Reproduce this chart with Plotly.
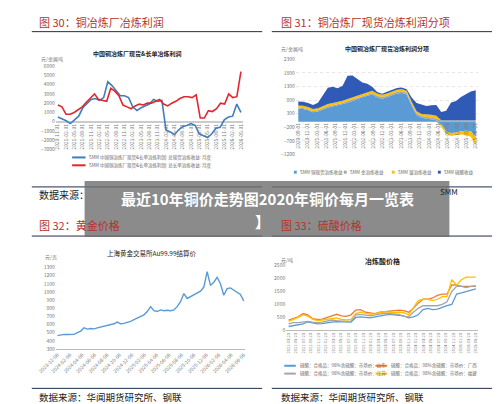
import plotly.graph_objects as go

W, H = 500, 404
def py(p): return 1 - p / H

# ---- Fig 30: smelter profit ----
p30_blue = [500,300,100,-200,200,600,1500,2000,2400,2500,2300,2600,4300,3900,3300,2800,2800,2600,1600,1200,1500,1700,1900,2400,2200,2300,-900,-1100,-1400,-900,-500,-400,-200,-400,-1300,-1500,-1700,-1300,-700,-600,200,500,600,1900,1000]
p30_red = [1800,1600,800,800,1000,1300,1600,2100,2600,3000,2400,2300,2200,3600,3300,2800,1800,1600,1400,1700,1900,1800,2000,2000,2200,2400,1900,1700,2000,2200,2500,2700,2700,2600,2900,400,400,1200,1100,1400,2000,1900,3000,2600,2700,5400]
p30_ticks = ["2020-11-01","2021-02-01","2021-05-01","2021-08-01","2021-11-01","2022-02-01","2022-05-01","2022-08-01","2022-11-01","2023-02-01","2023-05-01","2023-08-01","2023-11-01","2024-02-01","2024-05-01","2024-08-01","2024-11-01","2025-02-01","2025-05-01","2025-08-01","2025-11-01","2026-02-01","2026-05-01"]
p30_names = ["SMM 中国铜冶炼厂现货&长单冶炼利润: 总现货冶炼收益: 月度", "SMM 中国铜冶炼厂现货&长单冶炼利润: 总长单冶炼收益: 月度"]

# ---- Fig 31: stacked components ----
p31_copper = [480,470,420,350,380,450,520,560,600,640,700,760,840,900,960,1000,900,850,900,980,1040,1060,1000,600,250,150,120,100,60,-100,-350,-420,-380,-350,-330,-350,-550]
p31_gold   = [40,40,40,40,40,50,50,50,50,50,60,60,60,60,60,60,60,60,60,60,60,60,60,60,60,60,60,60,60,60,60,60,60,60,60,60,60]
p31_silver = [80,80,80,80,80,80,80,80,80,80,80,80,80,80,80,80,80,80,80,80,80,80,80,80,80,80,100,100,100,-80,-100,-100,-100,-120,-150,-200,-300]
p31_acid   = [150,150,150,150,200,400,600,600,500,550,850,800,600,400,300,150,50,40,60,50,60,60,60,150,300,350,300,350,400,300,350,650,700,850,950,1050,1100]
p31_ticks = ["2020-09-01","2020-12-01","2021-03-01","2021-06-01","2021-09-01","2021-12-01","2022-03-01","2022-06-01","2022-09-01","2022-12-01","2023-03-01","2023-06-01","2023-09-01","2023-12-01","2024-03-01","2024-06-01","2024-09-01","2024-12-01","2025-03-01","2025-06-01"]
p31_names = ["SMM 铜现货冶炼收益", "SMM 金冶炼收益", "SMM 银冶炼收益", "SMM 硫酸收益"]

# ---- Fig 32: gold ----
p32_gold = [465,475,480,478,482,480,500,520,560,545,552,548,560,570,575,585,600,610,630,610,615,625,640,660,680,690,720,760,820,770,760,780,770,775,770,780,820,880,980,920,940,960,990,1010,1060,1250,1080,1120,1180,1100,960,1040,1050,1020,1000,970,890]
p32_ticks = ["2023-12-06","2024-02-06","2024-04-06","2024-06-06","2024-08-06","2024-10-06","2024-12-06","2025-02-06","2025-04-06","2025-06-06","2025-08-06","2025-10-06","2025-12-06","2026-02-06","2026-04-06","2026-06-06"]

# ---- Fig 33: sulfuric acid ----
p33_sd = [150,180,200,250,330,300,250,260,300,320,340,330,310,320,500,520,500,480,520,560,600,620,600,580,560,480,520,600,800,850,800,820,900,950,1000,1400,1450,1500,1550,1600]
p33_gx = [400,450,520,650,600,450,420,430,480,560,620,560,540,600,780,800,700,680,650,700,720,760,780,780,760,700,850,1050,1200,1200,1250,1350,1400,1400,1750,1750,1700,1700,1700,1700]
p33_js = [250,300,300,330,350,320,300,320,350,400,380,360,350,360,600,620,580,560,600,640,660,650,640,620,540,520,700,850,950,950,950,950,1000,1100,1500,1700,1700,1650,1700,1720]
p33_fj = [350,420,500,600,550,430,380,400,420,450,480,420,400,420,650,700,650,620,650,700,720,700,680,700,680,600,900,1150,1200,1200,1150,1200,1300,1300,1950,1750,1950,2050,2050,2050]
p33_ticks = ["2021-03-23","2021-05-23","2021-07-23","2021-09-23","2021-11-23","2022-01-23","2022-03-23","2022-05-23","2022-07-23","2022-09-23","2022-11-23","2023-01-23","2023-03-23","2023-05-23","2023-07-23","2023-09-23","2023-11-23","2024-01-23","2024-03-23","2024-05-23","2024-07-23","2024-09-23","2024-11-23","2025-01-23","2025-03-23","2025-05-23"]
p33_names = ["硫酸：合格品：98%含硫酸：市场价：山东", "硫酸：合格品：98%含硫酸：市场价：广西",
             "硫酸：合格品：98%含硫酸：市场价：江苏", "硫酸：合格品：98%含硫酸：市场价：福建"]

fig = go.Figure()
tickf = dict(size=5, color="#777")
BL, RD, YL, GR, OR = "#3d7ebf", "#e3262d", "#ffc000", "#a5a5a5", "#ed7d31"
def idx(n): return list(range(n))

fig.add_trace(go.Scatter(x=idx(len(p30_blue)), y=p30_blue, mode="lines", line=dict(color=BL, width=1.6), xaxis="x", yaxis="y"))
fig.add_trace(go.Scatter(x=[i*(len(p30_blue)-1)/(len(p30_red)-1) for i in idx(len(p30_red))], y=p30_red, mode="lines",
    line=dict(color=RD, width=1.6), xaxis="x", yaxis="y"))
n31 = len(p31_copper)
c31 = ["#5b9bd5", GR, YL, "#2f5bb7"]
for grp, f in [("pos", lambda v: max(v, 0)), ("neg", lambda v: min(v, 0))]:
    for vals, col in zip([p31_copper, p31_gold, p31_silver, p31_acid], c31):
        fig.add_trace(go.Scatter(x=idx(n31), y=[f(v) for v in vals], mode="lines", stackgroup=grp,
            line=dict(width=0, color=col), fillcolor=col, xaxis="x2", yaxis="y2"))
fig.add_trace(go.Scatter(x=idx(len(p32_gold)), y=p32_gold, mode="lines", line=dict(color="#5b9bd5", width=1.4), xaxis="x3", yaxis="y3"))
c33 = ["#5b9bd5", OR, GR, YL]
for vals, col in zip([p33_sd, p33_gx, p33_js, p33_fj], c33):
    fig.add_trace(go.Scatter(x=idx(len(vals)), y=vals, mode="lines", line=dict(color=col, width=1.3), xaxis="x4", yaxis="y4"))

def xa(dom, n, ticks, angle, **kw):
    step = (n - 1) / (len(ticks) - 1)
    d = dict(domain=dom, range=[-0.5, n - 0.5], showgrid=False, tickvals=[i*step for i in range(len(ticks))],
             ticktext=ticks, tickangle=angle, tickfont=tickf, showline=True, linecolor="#bbb", ticks="", zeroline=False)
    d.update(kw); return d

fig.update_layout(
    width=W, height=H, margin=dict(l=0, r=0, t=0, b=0), paper_bgcolor="white", plot_bgcolor="white",
    font=dict(family="Noto Sans CJK SC"), showlegend=False,
    xaxis=xa([0.06, 0.45], len(p30_blue), p30_ticks, -90, anchor="free", position=py(112), showline=False),
    yaxis=dict(domain=[py(140), py(55)], range=[-3000, 6000], dtick=1000, showgrid=False, tickfont=tickf, zeroline=True, zerolinecolor="#ccc", anchor="x"),
    xaxis2=xa([0.56, 0.94], n31, p31_ticks, -90, anchor="free", position=py(111), showline=False),
    yaxis2=dict(domain=[py(145), py(48)], range=[-1200, 2300], tickvals=[-1200,-700,-200,300,800,1300,1800,2300],
                gridcolor="#e6e6e6", griddash="dot", tickfont=tickf, zeroline=False, anchor="x2"),
    xaxis3=xa([0.06, 0.455], len(p32_gold), p32_ticks, -45, anchor="y3"),
    yaxis3=dict(domain=[py(343), py(260)], range=[300, 1300], dtick=100, showgrid=False, tickfont=tickf, anchor="x3"),
    xaxis4=xa([0.54, 0.94], len(p33_sd), p33_ticks, -90, anchor="y4", tickfont=dict(size=4, color="#777")),
    yaxis4=dict(domain=[py(324), py(258)], range=[0, 2500], dtick=500, showgrid=False, tickfont=tickf, anchor="x4"),
)

ann, shapes = [], []
def txt(x, y, s, size, color="#222", **kw):
    d = dict(x=x/W, y=py(y), xref="paper", yref="paper", text=s, showarrow=False, font=dict(size=size, color=color),
             xanchor="left", yanchor="middle"); d.update(kw); ann.append(d)
def leg_line(x, y, name, col, w=14):
    shapes.append(dict(type="line", xref="paper", yref="paper", x0=x/W, x1=(x+w)/W, y0=py(y), y1=py(y), line=dict(color=col, width=2)))
    txt(x + w + 2, y, name, 4.5, "#666")
def leg_box(x, y, name, col):
    shapes.append(dict(type="rect", xref="paper", yref="paper", x0=x/W, x1=(x+3)/W, y0=py(y+1.5), y1=py(y-1.5), fillcolor=col, line=dict(width=0)))
    txt(x + 4, y, name, 4.5, "#666")

red = "#b5322b"
txt(10, 10, "图 30：铜冶炼厂冶炼利润", 11, red)
txt(262, 10, "图 31：铜冶炼厂现货冶炼利润分项", 11, red)
txt(10, 217, "图 32：黄金价格", 11, red)
txt(262, 217, "图 33：硫酸价格", 11, red)
txt(115, 42, "<b>中国铜冶炼厂现货&长单冶炼利润</b>", 6, xanchor="center")
txt(375, 37, "<b>中国铜冶炼厂现货冶炼利润分项</b>", 6, xanchor="center")
txt(130, 245, "上海黄金交易所Au99.99结算价", 6.5, xanchor="center")
txt(370, 253, "<b>冶炼酸价格</b>", 7, xanchor="center")
txt(12, 48, "元/金属吨", 5, "#777")
txt(262, 38, "元/金属吨", 5, "#777")
txt(17, 249, "元/克", 5, "#777")
txt(262, 252, "元/吨", 5, "#777")
for i, (nm, col) in enumerate(zip(p30_names, [BL, RD])):
    leg_line(47, 148 + i*8, nm, col)
for nm, col, x in zip(p31_names, c31, [278, 330, 380, 428]):
    leg_box(x, 163, nm, col)
for i, (nm, col) in enumerate(zip(p33_names, c33)):
    leg_line(268 + (i % 2) * 95, 360 + (i // 2) * 8, nm, col, w=12)
txt(10, 186, "数据来源：", 10)
txt(428, 183, "SMM", 8)
txt(10, 392, "数据来源：华闻期货研究所、钢联", 9.5)
txt(262, 392, "数据来源：华闻期货研究所、钢联", 9.5)
txt(250, 190, "<b>最近10年铜价走势图2020年铜价每月一览表</b>", 15, "white", xanchor="center")
txt(245, 213, "<b>】</b>", 15, "white", xanchor="center")

for x0, x1, y in [(5, 245, 20), (255, 495, 20), (5, 245, 178), (255, 495, 178), (5, 245, 228), (255, 495, 228), (5, 245, 383), (255, 495, 383)]:
    shapes.append(dict(type="line", xref="paper", yref="paper", x0=x0/W, x1=x1/W, y0=py(y), y1=py(y), line=dict(color="#1f2d4d", width=1)))
shapes.append(dict(type="rect", xref="paper", yref="paper", x0=60/W, x1=440/W, y0=py(229), y1=py(172),
                   fillcolor="rgba(110,110,110,0.8)", line=dict(width=0), layer="above"))
fig.update_layout(annotations=ann, shapes=shapes)
fig.write_html("out.html")
